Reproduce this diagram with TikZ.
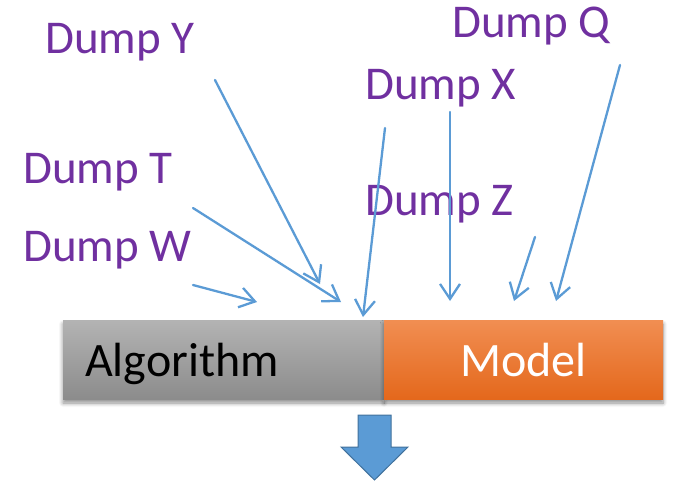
\documentclass[tikz,border=0pt]{standalone}
\usepackage{fontspec}
\setmainfont{Carlito}
\usetikzlibrary{arrows.meta,shadows.blur}

\definecolor{dumppurple}{HTML}{7030A0}
\definecolor{feedblue}{HTML}{5B9BD5}
\definecolor{feededge}{HTML}{41719C}
\definecolor{graytop}{HTML}{B3B3B3}
\definecolor{graybot}{HTML}{8C8C8C}
\definecolor{orangetop}{HTML}{F18E52}
\definecolor{orangebot}{HTML}{E4681C}

\tikzset{
  dumplabel/.style={anchor=base west, inner sep=0pt, text=dumppurple,
    font=\fontsize{47}{56}\selectfont},
  feed/.style={draw=feedblue, line width=2.3pt, line cap=round,
    -{Straight Barb[length=15pt,width=20pt,line width=2.3pt]}},
  stagebox/.style={minimum height=79pt, inner sep=0pt, outer sep=0pt,
    text height=33pt, text depth=0pt, font=\fontsize{48}{57}\selectfont,
    blur shadow={shadow xshift=0pt, shadow yshift=-4pt, shadow blur steps=6,
      shadow blur radius=4pt, shadow opacity=45}},
}

\begin{document}
\begin{tikzpicture}[x=1pt,y=-1pt]
  \useasboundingbox (0,0) rectangle (674,482);

  % pipeline stages
  \node[stagebox, anchor=north west, minimum width=321pt, text width=277pt,
        align=left, top color=graytop, bottom color=graybot, text=black]
    (algo) at (63,320) {Algorithm};
  \node[stagebox, anchor=north west, minimum width=279pt,
        top color=orangetop, bottom color=orangebot, text=white]
    (model) at (384,320) {Model};

  % output arrow
  \fill[feedblue, draw=feededge, line width=1pt]
    (358,415) -- (391,415) -- (391,447) -- (408,447) -- (374.5,480)
    -- (341,447) -- (358,447) -- cycle;

  % dump labels
  \node[dumplabel] (dy) at (45,53)  {Dump Y};
  \node[dumplabel] (dq) at (452,37) {Dump Q};
  \node[dumplabel] (dx) at (365,99) {Dump X};
  \node[dumplabel] (dt) at (23,183) {Dump T};
  \node[dumplabel] (dz) at (365,215) {Dump Z};
  \node[dumplabel] (dw) at (23,261) {Dump W};

  % arrow start and end points
  \coordinate (sy) at (215,80);   \coordinate (ey) at (320,284);
  \coordinate (st) at (193,208);  \coordinate (et) at (341,302);
  \coordinate (sw) at (193,285);  \coordinate (ew) at (257,302);
  \coordinate (sa) at (385,128);  \coordinate (ea) at (363,317);
  \coordinate (sx) at (450,112);  \coordinate (ex) at (450,301);
  \coordinate (sz) at (535,237);  \coordinate (ez) at (514,301);
  \coordinate (sq) at (620,65);   \coordinate (eq) at (556,301);

  % dumps feeding the pipeline
  \draw[feed] (sy) -- (ey);
  \draw[feed] (st) -- (et);
  \draw[feed] (sw) -- (ew);
  \draw[feed] (sa) -- (ea);
  \draw[feed] (sx) -- (ex);
  \draw[feed] (sz) -- (ez);
  \draw[feed] (sq) -- (eq);
\end{tikzpicture}
\end{document}
